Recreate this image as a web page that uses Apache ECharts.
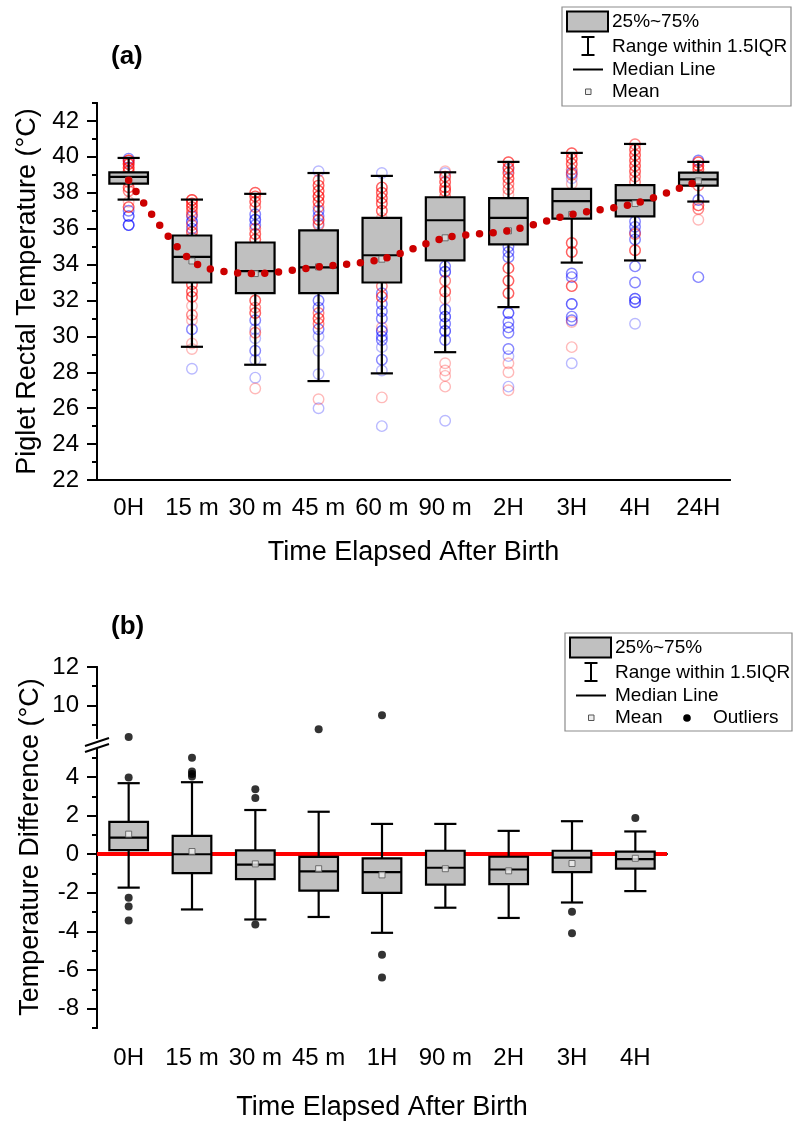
<!DOCTYPE html>
<html>
<head>
<meta charset="utf-8">
<script src="https://cdn.jsdelivr.net/npm/echarts@6/dist/echarts.min.js"></script>
<style>
html, body { margin: 0; background: #fff; }
#chart { width: 796px; height: 1135px; }
</style>
</head>
<body>
<div id="chart"></div>
<script>
// ---- panel (a) data ----
const catsA = ['0H', '15 m', '30 m', '45 m', '60 m', '90 m', '2H', '3H', '4H', '24H'];
// [min, Q1, median, Q3, max]
const boxA = [
    [37.62, 38.51, 38.88, 39.14, 39.94],
    [29.42, 33.00, 34.43, 35.62, 37.62],
    [28.42, 32.41, 33.63, 35.23, 37.94],
    [27.51, 32.41, 33.84, 35.90, 39.10],
    [27.94, 33.00, 34.52, 36.60, 38.94],
    [29.12, 34.23, 36.47, 37.75, 39.14],
    [31.63, 35.12, 36.60, 37.70, 39.72],
    [34.11, 36.56, 37.53, 38.22, 40.22],
    [34.23, 36.69, 37.58, 38.42, 40.72],
    [37.51, 38.40, 38.75, 39.12, 39.72]
];
const meanA = [38.70, 34.20, 33.50, 33.87, 34.30, 35.49, 35.88, 36.79, 37.40, 38.66];
// individual readings per time point: [temperature, how many piglets]
const redA = [
    [[39.8, 4], [39.6, 4], [39.4, 4], [39.2, 3], [38.9, 2], [38.6, 2], [38.3, 3], [38.1, 2], [37.5, 1], [37.2, 3]],
    [[37.6, 4], [37.4, 3], [37.2, 3], [37.0, 2], [36.8, 2], [36.2, 2], [35.8, 3], [35.5, 2], [32.9, 3], [32.5, 3], [32.2, 3], [31.7, 1], [31.2, 2], [30.9, 1], [29.6, 1], [29.3, 1]],
    [[38.0, 3], [37.8, 3], [37.5, 3], [37.2, 2], [36.0, 2], [35.7, 3], [35.4, 3], [32.0, 3], [31.6, 2], [31.3, 3], [30.2, 2], [27.1, 1]],
    [[38.7, 2], [38.4, 3], [38.1, 3], [37.8, 4], [37.5, 3], [37.2, 2], [36.5, 3], [36.2, 2], [31.3, 2], [31.0, 3], [30.7, 2], [26.5, 1]],
    [[38.3, 3], [38.0, 3], [37.7, 3], [37.4, 3], [37.0, 3], [36.6, 1], [32.8, 2], [32.2, 3], [30.5, 1], [26.6, 1]],
    [[39.2, 1], [38.9, 3], [38.6, 3], [38.3, 3], [38.1, 3], [37.8, 2], [33.1, 2], [32.5, 3], [32.1, 1], [28.5, 1], [28.1, 1], [27.8, 1], [27.2, 1]],
    [[39.7, 3], [39.4, 3], [39.1, 3], [38.8, 3], [38.5, 2], [38.2, 2], [37.9, 1], [33.8, 3], [33.1, 3], [32.4, 3], [28.5, 1], [28.0, 1], [27.0, 1]],
    [[40.2, 3], [39.9, 3], [39.6, 3], [39.3, 2], [39.0, 2], [38.5, 1], [35.2, 3], [34.7, 3], [32.8, 3], [30.8, 1], [29.4, 1]],
    [[40.7, 2], [40.4, 3], [40.1, 3], [39.8, 3], [39.5, 3], [39.2, 3], [38.9, 2], [38.6, 2], [35.7, 2], [34.8, 3]],
    [[39.7, 3], [39.5, 3], [39.3, 3], [39.0, 2], [38.7, 2], [38.4, 2], [37.3, 3], [37.1, 2], [36.5, 1]]
];
const blueA = [
    [[39.9, 2], [39.7, 1], [37.0, 2], [36.7, 3], [36.2, 4]],
    [[36.7, 2], [36.4, 3], [36.0, 2], [34.5, 1], [30.4, 2], [28.2, 1]],
    [[36.8, 2], [36.5, 3], [36.2, 2], [30.9, 2], [30.4, 1], [29.9, 1], [29.2, 2], [28.7, 1], [27.7, 1]],
    [[39.2, 1], [37.0, 2], [36.7, 2], [36.3, 1], [32.0, 2], [31.6, 2], [30.4, 2], [30.0, 1], [29.2, 1], [27.9, 1], [26.0, 1]],
    [[39.1, 1], [32.4, 2], [31.8, 2], [31.4, 2], [31.0, 2], [30.3, 3], [30.0, 2], [29.8, 2], [29.4, 1], [28.7, 2], [28.1, 1], [25.0, 1]],
    [[39.1, 1], [33.9, 2], [33.6, 3], [31.5, 2], [31.1, 3], [30.7, 2], [30.3, 3], [29.8, 2], [25.3, 1]],
    [[39.3, 1], [35.0, 2], [34.7, 2], [34.4, 2], [31.3, 3], [30.8, 2], [30.5, 2], [30.2, 2], [29.3, 2], [28.9, 1], [27.2, 1]],
    [[39.1, 2], [38.8, 1], [33.5, 2], [33.3, 2], [31.8, 3], [31.1, 2], [30.9, 2], [28.5, 1]],
    [[36.4, 2], [36.1, 2], [35.8, 2], [35.4, 2], [33.9, 2], [33.0, 2], [32.1, 3], [31.9, 3], [30.7, 1]],
    [[39.8, 2], [37.6, 2], [33.3, 2]]
];
const yMajorA = [22, 24, 26, 28, 30, 32, 34, 36, 38, 40, 42];
const yMinorA = [23, 25, 27, 29, 31, 33, 35, 37, 39, 41, 43];

// ---- panel (b) data ----
const catsB = ['0H', '15 m', '30 m', '45 m', '1H', '90 m', '2H', '3H', '4H'];
const boxB = [
    [-1.73, 0.21, 0.86, 1.68, 3.68],
    [-2.86, -0.98, 0.00, 0.95, 3.73],
    [-3.38, -1.29, -0.54, 0.20, 2.29],
    [-3.25, -1.89, -0.89, -0.14, 2.20],
    [-4.07, -2.00, -0.93, -0.21, 1.57],
    [-2.77, -1.57, -0.70, 0.18, 1.57],
    [-3.30, -1.55, -0.79, -0.13, 1.21],
    [-2.50, -0.93, -0.18, 0.18, 1.71],
    [-1.91, -0.75, -0.25, 0.14, 1.18]
];
const meanB = [1.04, 0.14, -0.50, -0.75, -1.07, -0.75, -0.86, -0.48, -0.21];
const outliersB = [[0, 3.98], [0, -2.25], [0, -2.71], [0, -3.43], [1, 5.0], [1, 4.29], [1, 4.16], [1, 4.02],
    [2, 3.36], [2, 2.91], [2, -3.64], [4, -5.21], [4, -6.38], [7, -2.98], [7, -4.09], [8, 1.88]];
const outliersBHigh = [[0, 8.35], [3, 8.76], [4, 9.48]];
const yMajorB = [-8, -6, -4, -2, 0, 2, 4];
const yMinorB = [-9, -7, -5, -3, -1, 1, 3, 5];
const yMajorBHigh = [10, 12];
const yMinorBHigh = [9, 11];

const FONT = '"Liberation Sans", Arial, sans-serif';
const BOX_FILL = '#c0c0c0';

function expand(groups) {
    let out = [];
    groups.forEach((g, i) => {
        g.forEach(([v, n]) => {
            for (let k = 0; k < n; k++) out.push([i, v]);
        });
    });
    return out;
}

function renderBox(params, api) {
    const i = api.value(0);
    const pMin = api.coord([i, api.value(1)]);
    const pQ1 = api.coord([i, api.value(2)]);
    const pMed = api.coord([i, api.value(3)]);
    const pQ3 = api.coord([i, api.value(4)]);
    const pMax = api.coord([i, api.value(5)]);
    const band = api.size([1, 0])[0];
    const bw = band * 0.61, cw = band * 0.35;
    const x = pMed[0];
    const ls = { stroke: '#000', lineWidth: 2.2 };
    return {
        type: 'group',
        children: [
            { type: 'line', shape: { x1: x, y1: pMax[1], x2: x, y2: pMin[1] }, style: ls },
            { type: 'line', shape: { x1: x - cw / 2, y1: pMax[1], x2: x + cw / 2, y2: pMax[1] }, style: ls },
            { type: 'line', shape: { x1: x - cw / 2, y1: pMin[1], x2: x + cw / 2, y2: pMin[1] }, style: ls },
            { type: 'rect', shape: { x: x - bw / 2, y: pQ3[1], width: bw, height: pQ1[1] - pQ3[1] },
              style: { fill: BOX_FILL, stroke: '#000', lineWidth: 2.2 } },
            { type: 'line', shape: { x1: x - bw / 2, y1: pMed[1], x2: x + bw / 2, y2: pMed[1] }, style: ls }
        ]
    };
}

const axisLineStyle = { lineStyle: { color: '#000', width: 2 } };

function xCat(grid, cats, opts) {
    return Object.assign({
        type: 'category', gridIndex: grid, data: cats, position: 'bottom',
        axisLine: axisLineStyle,
        axisTick: { alignWithLabel: true, length: 11, lineStyle: { color: '#000', width: 2 } },
        axisLabel: { interval: 0, margin: 16, color: '#000', fontSize: 24, fontFamily: FONT },
        splitLine: { show: false }
    }, opts);
}

function yVal(grid, min, max, major, withLabels) {
    return {
        type: 'value', gridIndex: grid, min: min, max: max, position: 'left',
        axisLine: { show: true, lineStyle: { color: '#000', width: 2 } },
        axisTick: { show: true, customValues: major, length: withLabels ? 10 : 5, lineStyle: { color: '#000', width: 2 } },
        axisLabel: withLabels
            ? { customValues: major, margin: 18, color: '#000', fontSize: 24, fontFamily: FONT }
            : { show: false },
        splitLine: { show: false }
    };
}

function legend(x0, y0, w, h, withOutliers) {
    const t = (text, x, y) => ({ type: 'text', style: { text: text, x: x, y: y, fill: '#000', font: '19px ' + FONT, align: 'left', verticalAlign: 'middle' } });
    const line = (x1, y1, x2, y2, lw) => ({ type: 'line', shape: { x1: x1, y1: y1, x2: x2, y2: y2 }, style: { stroke: '#000', lineWidth: lw || 2 } });
    const els = [
        { type: 'rect', shape: { x: x0, y: y0, width: w, height: h }, style: { fill: '#fff', stroke: '#8c8c8c', lineWidth: 1.2 } },
        { type: 'rect', shape: { x: x0 + 5, y: y0 + 4.5, width: 41, height: 20 }, style: { fill: BOX_FILL, stroke: '#000', lineWidth: 2 } },
        t('25%~75%', x0 + 50, y0 + 14.5),
        line(x0 + 26, y0 + 30, x0 + 26, y0 + 48),
        line(x0 + 19.5, y0 + 30, x0 + 32.5, y0 + 30),
        line(x0 + 19.5, y0 + 48, x0 + 32.5, y0 + 48),
        t('Range within 1.5IQR', x0 + 50, y0 + 40),
        line(x0 + 11, y0 + 62.5, x0 + 41, y0 + 62.5),
        t('Median Line', x0 + 50, y0 + 62.5),
        { type: 'rect', shape: { x: x0 + 23.5, y: y0 + 82, width: 5.5, height: 5.5 }, style: { fill: '#eee', stroke: '#555', lineWidth: 1 } },
        t('Mean', x0 + 50, y0 + 85)
    ];
    if (withOutliers) {
        els.push({ type: 'circle', shape: { cx: x0 + 122, cy: y0 + 85, r: 3.8 }, style: { fill: '#000' } });
        els.push(t('Outliers', x0 + 148, y0 + 85));
    }
    return { type: 'group', silent: true, children: els };
}

let chart = echarts.init(document.getElementById('chart'), null, { renderer: 'canvas' });

const option = {
    animation: false,
    backgroundColor: '#fff',
    textStyle: { fontFamily: FONT },
    grid: [
        { left: 97, top: 103, width: 633, height: 377 },
        { left: 97, top: 749, width: 570, height: 279 },
        { left: 97, top: 667, width: 570, height: 71 }
    ],
    xAxis: [
        xCat(0, catsA, {
            name: 'Time Elapsed After Birth', nameLocation: 'middle', nameGap: 59,
            nameTextStyle: { color: '#000', fontSize: 27, fontFamily: FONT }
        }),
        xCat(0, catsA, { axisTick: { length: 6, lineStyle: { color: '#000', width: 2 } }, axisLabel: { show: false } }),
        xCat(1, catsB, {
            axisLabel: { interval: 0, margin: 18, color: '#000', fontSize: 24, fontFamily: FONT },
            name: 'Time Elapsed After Birth', nameLocation: 'middle', nameGap: 66,
            nameTextStyle: { color: '#000', fontSize: 27, fontFamily: FONT }
        }),
        xCat(2, catsB, { show: false })
    ],
    yAxis: [
        Object.assign(yVal(0, 22, 43, yMajorA, true), {
            name: 'Piglet Rectal Temperature (°C)', nameLocation: 'middle', nameGap: 55,
            nameTextStyle: { color: '#000', fontSize: 27, fontFamily: FONT }
        }),
        yVal(0, 22, 43, yMinorA, false),
        yVal(1, -9, 5.45, yMajorB, true),
        yVal(1, -9, 5.45, yMinorB, false),
        yVal(2, 8.3, 12, yMajorBHigh, true),
        yVal(2, 8.3, 12, yMinorBHigh, false)
    ],
    graphic: [
        { type: 'text', x: 111, y: 44, style: { text: '(a)', font: 'bold 26px ' + FONT, fill: '#000' } },
        { type: 'text', x: 111, y: 614, style: { text: '(b)', font: 'bold 26px ' + FONT, fill: '#000' } },
        { type: 'text', x: 31, y: 847, rotation: Math.PI / 2,
          style: { text: 'Temperature Difference (°C)', font: '27px ' + FONT, fill: '#000', align: 'center', verticalAlign: 'middle' } },
        // axis break marks
        { type: 'rect', shape: { x: 90, y: 738, width: 14, height: 11 }, style: { fill: '#fff' } },
        { type: 'line', shape: { x1: 85, y1: 746, x2: 109, y2: 738 }, style: { stroke: '#000', lineWidth: 2 } },
        { type: 'line', shape: { x1: 85, y1: 752, x2: 109, y2: 744 }, style: { stroke: '#000', lineWidth: 2 } },
        legend(562, 7, 229, 99, false),
        legend(565, 633, 227, 98, true)
    ],
    series: [
        {
            type: 'scatter', xAxisIndex: 0, yAxisIndex: 0, z: 2,
            symbol: 'circle', symbolSize: 10.5, silent: true,
            itemStyle: { color: 'rgba(0,0,0,0)', borderColor: 'rgba(0,0,255,0.34)', borderWidth: 1.4 },
            data: expand(blueA)
        },
        {
            type: 'scatter', xAxisIndex: 0, yAxisIndex: 0, z: 2,
            symbol: 'circle', symbolSize: 10.5, silent: true,
            itemStyle: { color: 'rgba(0,0,0,0)', borderColor: 'rgba(255,0,0,0.34)', borderWidth: 1.4 },
            data: expand(redA)
        },
        {
            type: 'custom', xAxisIndex: 0, yAxisIndex: 0, z: 3,
            renderItem: renderBox,
            encode: { x: 0, y: [1, 2, 3, 4, 5] },
            data: boxA.map((b, i) => [i].concat(b))
        },
        {
            type: 'scatter', xAxisIndex: 0, yAxisIndex: 0, z: 4,
            symbol: 'rect', symbolSize: 6,
            itemStyle: { color: '#ddd', borderColor: '#555', borderWidth: 1 },
            data: meanA.map((v, i) => [i, v])
        },
        {
            type: 'line', xAxisIndex: 0, yAxisIndex: 0, z: 5,
            data: meanA, smooth: 0.3, showSymbol: false, symbol: 'none',
            lineStyle: { color: '#cc0000', width: 7.5, type: [0, 13.7], cap: 'round' }
        },
        {
            type: 'custom', xAxisIndex: 2, yAxisIndex: 2, z: 3,
            renderItem: renderBox,
            encode: { x: 0, y: [1, 2, 3, 4, 5] },
            data: boxB.map((b, i) => [i].concat(b))
        },
        {
            type: 'scatter', xAxisIndex: 2, yAxisIndex: 2, z: 4,
            symbol: 'rect', symbolSize: 6,
            itemStyle: { color: '#eee', borderColor: '#555', borderWidth: 1 },
            data: meanB.map((v, i) => [i, v])
        },
        {
            type: 'scatter', xAxisIndex: 2, yAxisIndex: 2, z: 4,
            symbol: 'circle', symbolSize: 8,
            itemStyle: { color: '#000' },
            data: outliersB,
            markLine: {
                silent: true, symbol: 'none', z: 1,
                label: { show: false },
                lineStyle: { color: '#ff0000', width: 4, type: 'solid' },
                data: [{ yAxis: 0 }]
            }
        },
        {
            type: 'scatter', xAxisIndex: 3, yAxisIndex: 4, z: 4,
            symbol: 'circle', symbolSize: 8,
            itemStyle: { color: '#000' },
            data: outliersBHigh
        }
    ]
};

option && chart.setOption(option);
window.addEventListener('resize', chart.resize);
</script>
</body>
</html>
